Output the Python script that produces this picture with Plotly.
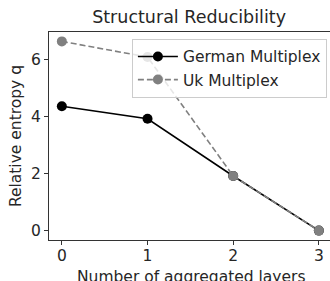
import plotly.graph_objects as go

layers = [0, 1, 2, 3]
german = [4.37, 3.93, 1.92, 0.0]
uk = [6.65, 6.1, 1.92, 0.0]
x_ticks = [0, 1, 2, 3]
y_ticks = [0, 2, 4, 6]

FONT = "DejaVu Sans"
FS = 15.5
TXT = "#262626"

fig = go.Figure()
fig.add_trace(go.Scatter(x=layers, y=german, mode="lines+markers", name="German Multiplex",
                         line=dict(color="black", width=1.6),
                         marker=dict(color="black", size=10)))
fig.add_trace(go.Scatter(x=layers, y=uk, mode="lines+markers", name="Uk Multiplex",
                         line=dict(color="grey", width=1.6, dash="6px,3px"),
                         marker=dict(color="grey", size=10)))

fig.update_layout(
    width=330, height=281,
    margin=dict(l=49, r=0, t=32, b=41, autoexpand=False),
    paper_bgcolor="white", plot_bgcolor="white",
    font=dict(family=FONT, size=FS, color=TXT),
    title=dict(text="Structural Reducibility", x=0.573, xanchor="center", y=0.94, yanchor="middle",
               font=dict(family=FONT, size=17.5, color=TXT)),
    xaxis=dict(range=[-0.15, 3.13], tickvals=x_ticks, showgrid=False, zeroline=False,
               showline=True, linecolor="#333", linewidth=1, mirror=True,
               ticks="outside", ticklen=4, tickcolor="#333", automargin=False,
               ticklabelstandoff=-3),
    yaxis=dict(range=[-0.33, 6.98], tickvals=y_ticks, showgrid=False, zeroline=False,
               showline=True, linecolor="#333", linewidth=1, mirror=True,
               ticks="outside", ticklen=4, tickcolor="#333", automargin=False),
    legend=dict(x=0.295, y=0.967, xanchor="left", yanchor="top",
                bgcolor="rgba(255,255,255,0.8)", bordercolor="#cccccc", borderwidth=1,
                font=dict(family=FONT, size=FS), itemwidth=40, tracegroupgap=0),
    showlegend=True,
    annotations=[
        dict(text="Number of aggregated layers", xref="paper", yref="paper",
             x=0.507, y=-0.18, xanchor="center", yanchor="middle", showarrow=False,
             font=dict(family=FONT, size=FS, color=TXT)),
        dict(text="Relative entropy q", xref="paper", yref="paper",
             x=-0.117, y=0.5, xanchor="center", yanchor="middle", showarrow=False, textangle=-90,
             font=dict(family=FONT, size=FS, color=TXT)),
    ],
)

fig.write_html("out.html", config={"displayModeBar": False},
               post_script="document.body.style.margin='0';")
